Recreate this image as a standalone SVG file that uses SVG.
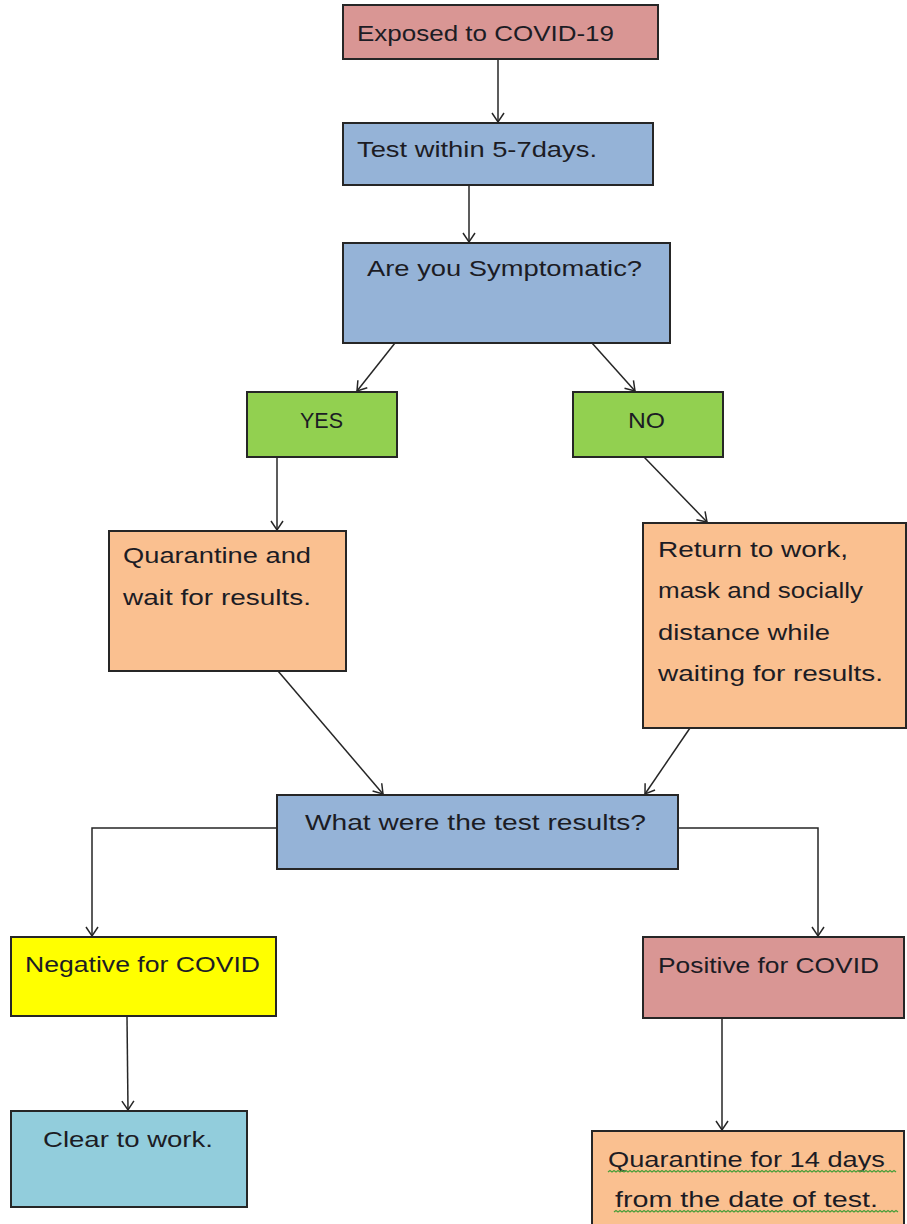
<svg xmlns="http://www.w3.org/2000/svg" width="907" height="1224" viewBox="0 0 907 1224">
<style>
.box{stroke:#262626;stroke-width:2}
.red{fill:#D99694}.blue{fill:#95B3D7}.green{fill:#92D050}.orange{fill:#FAC090}.yellow{fill:#FFFF00}.cyan{fill:#92CDDC}
text{font-family:"Liberation Sans",Arial,sans-serif;font-size:22px;fill:#1c1c24}
.conn{stroke:#262626;stroke-width:1.5;fill:none}
.squig{stroke:#4a9e3a;stroke-width:1.3;fill:none}
</style>
<defs>
<marker id="arr" markerUnits="userSpaceOnUse" markerWidth="20" markerHeight="20" refX="0" refY="0" viewBox="-12 -10 14 20" orient="auto">
<path d="M-9,-6 L0,0 L-9,6" fill="none" stroke="#262626" stroke-width="1.5"/>
</marker>
</defs>
<g id="connectors">
<line class="conn" x1="498" y1="59" x2="498" y2="122" marker-end="url(#arr)"/>
<line class="conn" x1="469" y1="185" x2="469" y2="242" marker-end="url(#arr)"/>
<line class="conn" x1="395" y1="343" x2="357" y2="391" marker-end="url(#arr)"/>
<line class="conn" x1="592" y1="343" x2="635" y2="391" marker-end="url(#arr)"/>
<line class="conn" x1="277" y1="457" x2="277" y2="530" marker-end="url(#arr)"/>
<line class="conn" x1="644" y1="457" x2="707" y2="522" marker-end="url(#arr)"/>
<line class="conn" x1="278" y1="671" x2="383" y2="794" marker-end="url(#arr)"/>
<line class="conn" x1="690" y1="728" x2="645" y2="794" marker-end="url(#arr)"/>
<polyline class="conn" points="277,828 92,828 92,936" marker-end="url(#arr)"/>
<polyline class="conn" points="678,828 818,828 818,936" marker-end="url(#arr)"/>
<line class="conn" x1="127" y1="1017" x2="128" y2="1110" marker-end="url(#arr)"/>
<line class="conn" x1="722" y1="1018" x2="722" y2="1130" marker-end="url(#arr)"/>
</g>
<g id="exposed">
<rect class="box red" x="343" y="5" width="315" height="54"/>
<text x="357" y="41" textLength="257" lengthAdjust="spacingAndGlyphs">Exposed to COVID-19</text>
</g>
<g id="test">
<rect class="box blue" x="343" y="123" width="310" height="62"/>
<text x="357" y="157" textLength="240" lengthAdjust="spacingAndGlyphs">Test within 5-7days.</text>
</g>
<g id="symptomatic">
<rect class="box blue" x="343" y="243" width="327" height="100"/>
<text x="367" y="276" textLength="275" lengthAdjust="spacingAndGlyphs">Are you Symptomatic?</text>
</g>
<g id="yes">
<rect class="box green" x="247" y="392" width="150" height="65"/>
<text x="300" y="428" textLength="43" lengthAdjust="spacingAndGlyphs">YES</text>
</g>
<g id="no">
<rect class="box green" x="573" y="392" width="150" height="65"/>
<text x="628" y="428" textLength="37" lengthAdjust="spacingAndGlyphs">NO</text>
</g>
<g id="quarantine-wait">
<rect class="box orange" x="109" y="531" width="237" height="140"/>
<text x="123" y="563" textLength="188" lengthAdjust="spacingAndGlyphs">Quarantine and</text>
<text x="123" y="605" textLength="188" lengthAdjust="spacingAndGlyphs">wait for results.</text>
</g>
<g id="return-work">
<rect class="box orange" x="643" y="523" width="263" height="205"/>
<text x="658" y="557" textLength="190" lengthAdjust="spacingAndGlyphs">Return to work,</text>
<text x="658" y="598" textLength="205" lengthAdjust="spacingAndGlyphs">mask and socially</text>
<text x="658" y="640" textLength="172" lengthAdjust="spacingAndGlyphs">distance while</text>
<text x="658" y="681" textLength="225" lengthAdjust="spacingAndGlyphs">waiting for results.</text>
</g>
<g id="results">
<rect class="box blue" x="277" y="795" width="401" height="74"/>
<text x="305" y="830" textLength="341" lengthAdjust="spacingAndGlyphs">What were the test results?</text>
</g>
<g id="negative">
<rect class="box yellow" x="11" y="937" width="265" height="79"/>
<text x="25" y="972" textLength="235" lengthAdjust="spacingAndGlyphs">Negative for COVID</text>
</g>
<g id="clear">
<rect class="box cyan" x="11" y="1111" width="236" height="96"/>
<text x="43" y="1147" textLength="170" lengthAdjust="spacingAndGlyphs">Clear to work.</text>
</g>
<g id="positive">
<rect class="box red" x="643" y="937" width="261" height="81"/>
<text x="658" y="973" textLength="221" lengthAdjust="spacingAndGlyphs">Positive for COVID</text>
</g>
<g id="quarantine-14">
<rect class="box orange" x="592" y="1131" width="312" height="100"/>
<text x="608" y="1167" textLength="277" lengthAdjust="spacingAndGlyphs">Quarantine for 14 days</text>
<path class="squig" d="M608,1172 l2,-1.5 l2,1.5 l2,-1.5 l2,1.5 l2,-1.5 l2,1.5 l2,-1.5 l2,1.5 l2,-1.5 l2,1.5 l2,-1.5 l2,1.5 l2,-1.5 l2,1.5 l2,-1.5 l2,1.5 l2,-1.5 l2,1.5 l2,-1.5 l2,1.5 l2,-1.5 l2,1.5 l2,-1.5 l2,1.5 l2,-1.5 l2,1.5 l2,-1.5 l2,1.5 l2,-1.5 l2,1.5 l2,-1.5 l2,1.5 l2,-1.5 l2,1.5 l2,-1.5 l2,1.5 l2,-1.5 l2,1.5 l2,-1.5 l2,1.5 l2,-1.5 l2,1.5 l2,-1.5 l2,1.5 l2,-1.5 l2,1.5 l2,-1.5 l2,1.5 l2,-1.5 l2,1.5 l2,-1.5 l2,1.5 l2,-1.5 l2,1.5 l2,-1.5 l2,1.5 l2,-1.5 l2,1.5 l2,-1.5 l2,1.5 l2,-1.5 l2,1.5 l2,-1.5 l2,1.5 l2,-1.5 l2,1.5 l2,-1.5 l2,1.5 l2,-1.5 l2,1.5 l2,-1.5 l2,1.5 l2,-1.5 l2,1.5 l2,-1.5 l2,1.5 l2,-1.5 l2,1.5 l2,-1.5 l2,1.5 l2,-1.5 l2,1.5 l2,-1.5 l2,1.5 l2,-1.5 l2,1.5 l2,-1.5 l2,1.5 l2,-1.5 l2,1.5 l2,-1.5 l2,1.5 l2,-1.5 l2,1.5 l2,-1.5 l2,1.5 l2,-1.5 l2,1.5 l2,-1.5 l2,1.5 l2,-1.5 l2,1.5 l2,-1.5 l2,1.5 l2,-1.5 l2,1.5 l2,-1.5 l2,1.5 l2,-1.5 l2,1.5 l2,-1.5 l2,1.5 l2,-1.5 l2,1.5 l2,-1.5 l2,1.5 l2,-1.5 l2,1.5 l2,-1.5 l2,1.5 l2,-1.5 l2,1.5 l2,-1.5 l2,1.5 l2,-1.5 l2,1.5 l2,-1.5 l2,1.5 l2,-1.5 l2,1.5 l2,-1.5 l2,1.5 l2,-1.5 l2,1.5 l2,-1.5 l2,1.5 l2,-1.5 l2,1.5 l2,-1.5 l2,1.5 l2,-1.5 l2,1.5 l2,-1.5 l2,1.5"/>
<text x="615" y="1207" textLength="263" lengthAdjust="spacingAndGlyphs">from the date of test.</text>
<path class="squig" d="M614,1212 l2,-1.5 l2,1.5 l2,-1.5 l2,1.5 l2,-1.5 l2,1.5 l2,-1.5 l2,1.5 l2,-1.5 l2,1.5 l2,-1.5 l2,1.5 l2,-1.5 l2,1.5 l2,-1.5 l2,1.5 l2,-1.5 l2,1.5 l2,-1.5 l2,1.5 l2,-1.5 l2,1.5 l2,-1.5 l2,1.5 l2,-1.5 l2,1.5 l2,-1.5 l2,1.5 l2,-1.5 l2,1.5 l2,-1.5 l2,1.5 l2,-1.5 l2,1.5 l2,-1.5 l2,1.5 l2,-1.5 l2,1.5 l2,-1.5 l2,1.5 l2,-1.5 l2,1.5 l2,-1.5 l2,1.5 l2,-1.5 l2,1.5 l2,-1.5 l2,1.5 l2,-1.5 l2,1.5 l2,-1.5 l2,1.5 l2,-1.5 l2,1.5 l2,-1.5 l2,1.5 l2,-1.5 l2,1.5 l2,-1.5 l2,1.5 l2,-1.5 l2,1.5 l2,-1.5 l2,1.5 l2,-1.5 l2,1.5 l2,-1.5 l2,1.5 l2,-1.5 l2,1.5 l2,-1.5 l2,1.5 l2,-1.5 l2,1.5 l2,-1.5 l2,1.5 l2,-1.5 l2,1.5 l2,-1.5 l2,1.5 l2,-1.5 l2,1.5 l2,-1.5 l2,1.5 l2,-1.5 l2,1.5 l2,-1.5 l2,1.5 l2,-1.5 l2,1.5 l2,-1.5 l2,1.5 l2,-1.5 l2,1.5 l2,-1.5 l2,1.5 l2,-1.5 l2,1.5 l2,-1.5 l2,1.5 l2,-1.5 l2,1.5 l2,-1.5 l2,1.5 l2,-1.5 l2,1.5 l2,-1.5 l2,1.5 l2,-1.5 l2,1.5 l2,-1.5 l2,1.5 l2,-1.5 l2,1.5 l2,-1.5 l2,1.5 l2,-1.5 l2,1.5 l2,-1.5 l2,1.5 l2,-1.5 l2,1.5 l2,-1.5 l2,1.5 l2,-1.5 l2,1.5 l2,-1.5 l2,1.5 l2,-1.5 l2,1.5 l2,-1.5 l2,1.5 l2,-1.5 l2,1.5 l2,-1.5 l2,1.5 l2,-1.5 l2,1.5 l2,-1.5 l2,1.5 l2,-1.5 l2,1.5"/>
</g>
</svg>
